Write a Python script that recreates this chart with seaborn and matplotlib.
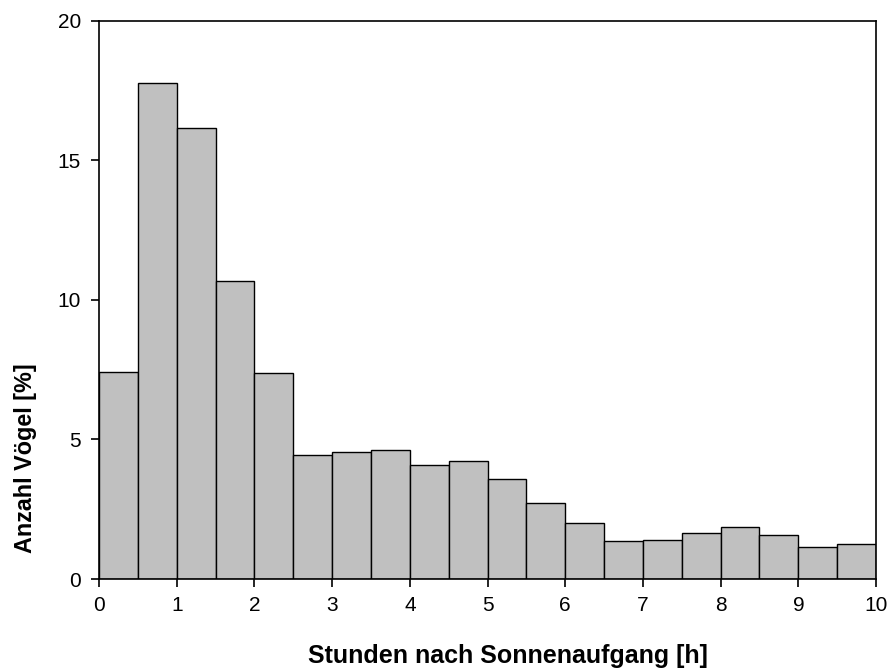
import numpy as np
import pandas as pd
import matplotlib
matplotlib.use("Agg")
import matplotlib.pyplot as plt
import seaborn as sns

# bin edges (hours after sunrise) and share of birds per bin [%]
bin_edges = [0, 0.5, 1, 1.5, 2, 2.5, 3, 3.5, 4, 4.5, 5,
             5.5, 6, 6.5, 7, 7.5, 8, 8.5, 9, 9.5, 10]
anteil = [7.42, 17.76, 16.15, 10.68, 7.40, 4.44, 4.56, 4.62, 4.10, 4.24,
          3.58, 2.72, 2.00, 1.36, 1.40, 1.65, 1.86, 1.58, 1.15, 1.27]
x_ticks = list(range(0, 11))
y_ticks = [0, 5, 10, 15, 20]

sns.set_style("ticks")
plt.rcParams['font.family'] = ['Liberation Sans', 'DejaVu Sans']

edges = np.array(bin_edges)
df = pd.DataFrame({
    "stunde": (edges[:-1] + edges[1:]) / 2,
    "anteil": anteil,
})

fig = plt.figure(figsize=(8.89, 6.70), dpi=100)
ax = fig.add_axes([0.1114, 0.1358, 0.874, 0.833])

sns.histplot(data=df, x="stunde", weights="anteil", bins=bin_edges, ax=ax,
             color="#c0c0c0", edgecolor="black", linewidth=1.0, alpha=1.0)

ax.set_xlim(0, 10)
ax.set_ylim(0, 20)
ax.set_xticks(x_ticks)
ax.set_yticks(y_ticks)
ax.tick_params(axis="both", direction="out", length=6, width=1.2,
               labelsize=15, colors="black", pad=6)
ax.tick_params(axis="y", pad=7)
for s in ax.spines.values():
    s.set_linewidth(1.2)
    s.set_color("black")
    s.set_visible(True)

ax.set_xlabel("Stunden nach Sonnenaufgang [h]", fontsize=18,
              fontweight="bold", color="black")
ax.set_ylabel("Anzahl Vögel [%]", fontsize=16.8, fontweight="bold",
              color="black")
# labels sit off-centre in the original
ax.xaxis.set_label_coords(0.5257, -0.117)
ax.yaxis.set_label_coords(-0.080, 0.2165)

fig.savefig("out.png", dpi=100)
